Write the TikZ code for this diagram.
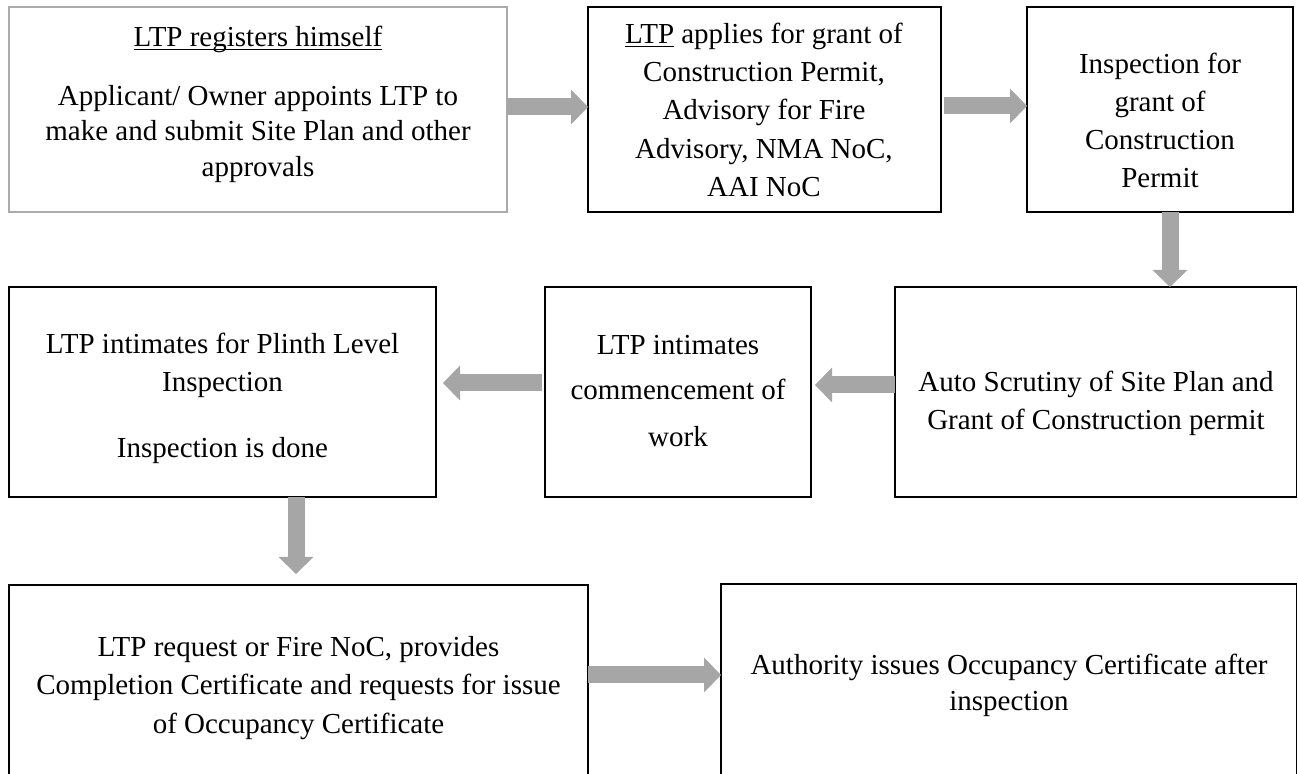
\documentclass[tikz,border=0pt]{standalone}
\usepackage{fontspec}
\setmainfont{Liberation Serif}
\usetikzlibrary{arrows.meta,calc,fit}
\definecolor{arrowgrey}{RGB}{166,166,166}
\definecolor{boxgrey}{RGB}{170,170,170}
\newsavebox\myulbox
\newcommand\myul[1]{\sbox\myulbox{#1}\makebox[0pt][l]{\rule[-1.6pt]{\wd\myulbox}{0.8pt}}\usebox{\myulbox}}
\begin{document}
\begin{tikzpicture}[x=0.5pt,y=-0.5pt,
  box/.style={draw=black, line width=0.75pt, inner sep=0pt, outer sep=0pt},
  txt/.style={anchor=base, inner sep=0pt, outer sep=0pt, font=\fontsize{14.5pt}{17.4pt}\selectfont},
  blockarrow/.style={draw=arrowgrey, line width=8.5pt, line cap=butt,
    -{Triangle[length=8.5pt,width=17.5pt,line width=0pt]}}]
\useasboundingbox (0,0) rectangle (1298,774);
\clip (0,0) rectangle (1298,774);
% boxes
\node[box, draw=boxgrey, fit={(9,7) (507,212)}] (b1) {};
\node[box, fit={(588,7) (941,212)}] (b2) {};
\node[box, fit={(1027,7) (1293,212)}] (b3) {};
\node[box, fit={(895,287) (1296.5,497)}] (b4) {};
\node[box, fit={(545,287) (811,497)}] (b5) {};
\node[box, fit={(9,287) (436,497)}] (b6) {};
\node[box, fit={(9,585) (588,800)}] (b7) {};
\node[box, fit={(721,584) (1296.5,800)}] (b8) {};
% texts
\node[txt] (t1a) at (258,47) {\myul{LTP registers himself}};
\node[txt] (t1b) at (258,106) {Applicant/ Owner appoints LTP to};
\node[txt] (t1c) at (258,141) {make and submit Site Plan and other};
\node[txt] (t1d) at (258,177) {approvals};
\node[txt] (t2a) at (764,44) {\myul{LTP} applies for grant of};
\node[txt] (t2b) at (764,82) {Construction Permit,};
\node[txt] (t2c) at (764,120) {Advisory for Fire};
\node[txt] (t2d) at (764,159) {Advisory, NMA NoC,};
\node[txt] (t2e) at (764,197) {AAI NoC};
\node[txt] (t3a) at (1160,74) {Inspection for};
\node[txt] (t3b) at (1160,112) {grant of};
\node[txt] (t3c) at (1160,150) {Construction};
\node[txt] (t3d) at (1160,188) {Permit};
\node[txt] (t4a) at (1096,392) {Auto Scrutiny of Site Plan and};
\node[txt] (t4b) at (1096,430) {Grant of Construction permit};
\node[txt] (t5a) at (678,355) {LTP intimates};
\node[txt] (t5b) at (678,400) {commencement of};
\node[txt] (t5c) at (678,447) {work};
\node[txt] (t6a) at (222.5,354) {LTP intimates for Plinth Level};
\node[txt] (t6b) at (222.5,392) {Inspection};
\node[txt] (t6c) at (222.5,458) {Inspection is done};
\node[txt] (t7a) at (298.5,657) {LTP request or Fire NoC, provides};
\node[txt] (t7b) at (298.5,695) {Completion Certificate and requests for issue};
\node[txt] (t7c) at (298.5,734) {of Occupancy Certificate};
\node[txt] (t8a) at (1009,675) {Authority issues Occupancy Certificate after};
\node[txt] (t8b) at (1009,711) {inspection};
% arrows
\draw[blockarrow] ($(b1.east)+(0,-2.5)$) -- ($(b2.west)+(0,-2.5)$);
\draw[blockarrow] ($(b2.east)+(3,-3.5)$) -- ($(b3.west)+(0,-3.5)$);
\coordinate (d1s) at ($(b3.south)+(10,0)$);
\draw[blockarrow] (d1s) -- (d1s |- b4.north);
\draw[blockarrow] ($(b4.west)+(0,-7)$) -- ($(b5.east)+(4,-7)$);
\draw[blockarrow] ($(b5.west)+(-3,-9)$) -- ($(b6.east)+(7,-9)$);
\coordinate (d2s) at ($(b6.south)+(73.5,0)$);
\draw[blockarrow, shorten >=5.5pt] (d2s) -- (d2s |- b7.north);
\coordinate (a3s) at ($(b7.north east)+(0,90)$);
\draw[blockarrow] (a3s) -- (a3s -| b8.west);
\end{tikzpicture}
\end{document}
